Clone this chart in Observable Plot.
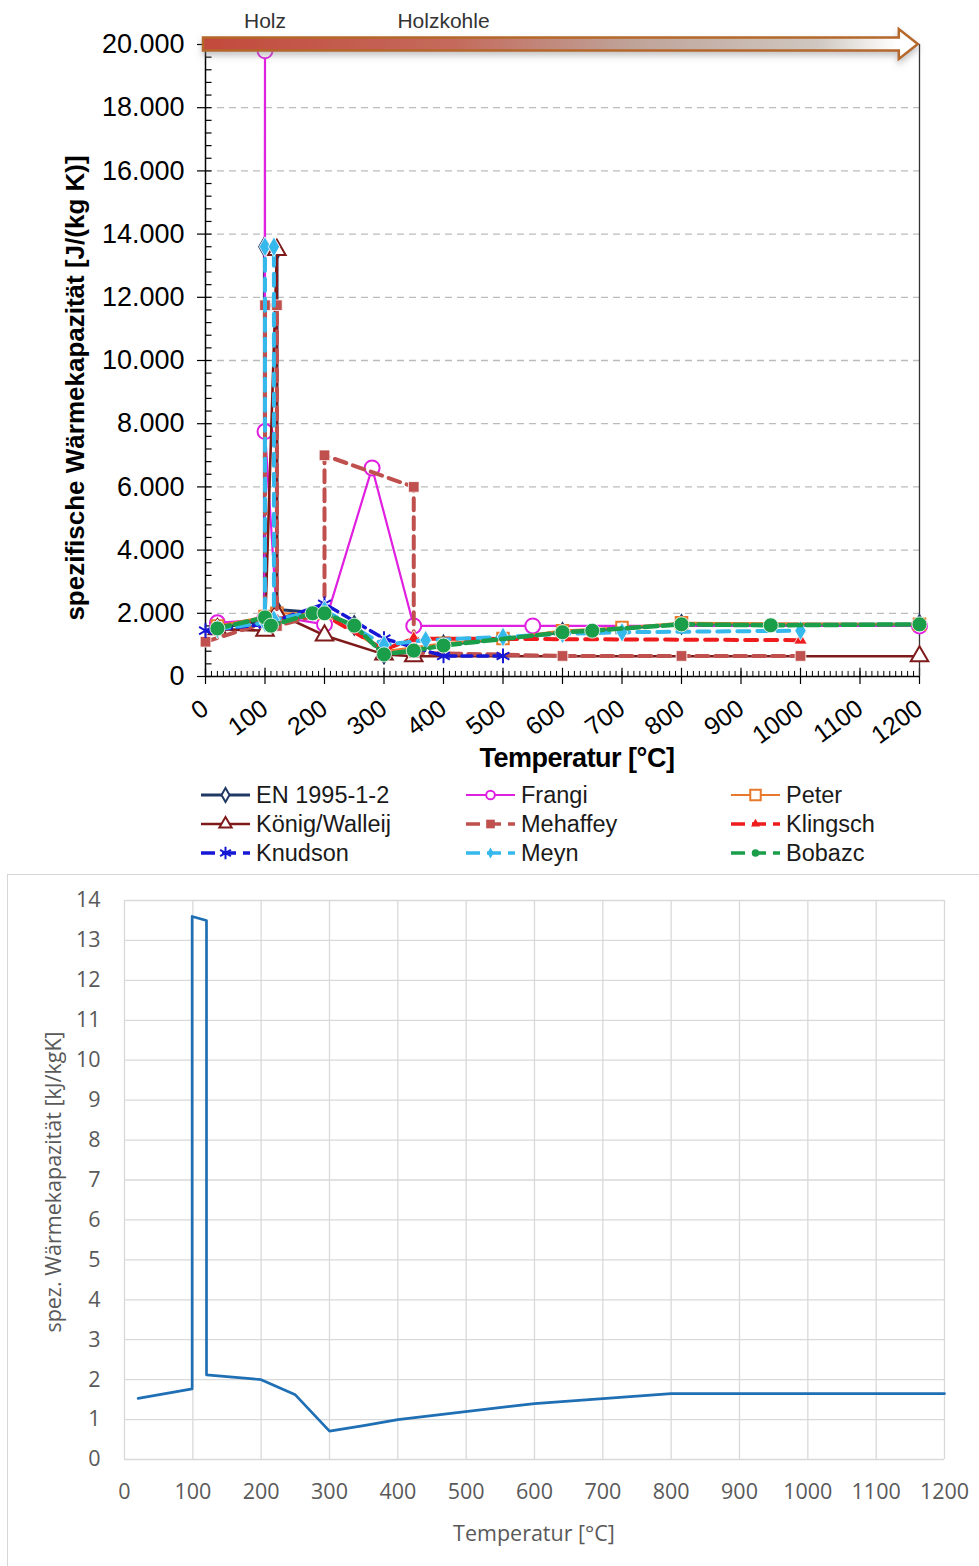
<!DOCTYPE html>
<html><head><meta charset="utf-8">
<script src="https://cdn.jsdelivr.net/npm/d3@7"></script>
<script src="https://cdn.jsdelivr.net/npm/@observablehq/plot@0.6"></script>
<style>
body{margin:0;background:#fff;}
#wrap{position:relative;width:979px;height:1566px;overflow:hidden;background:#fff;font-family:"Liberation Sans",Arial,sans-serif;}
.abs{position:absolute;}
</style></head><body><div id="wrap"></div>
<script>
// ---------- data: top chart (J/(kg K)) ----------
const seriesNames = ["EN 1995-1-2","Frangi","Peter","König/Walleij","Mehaffey","Klingsch","Knudson","Meyn","Bobazc"];
const temps_EN = [20,99,99,120,120,200,250,300,350,400,600,800,1200];
const cp_EN    = [1530,1770,13600,13500,2120,2000,1620,710,850,1000,1400,1650,1650];
const temps_Frangi = [20,99,100,100,120,200,280,350,550,1200];
const cp_Frangi    = [1700,1800,19800,7750,1900,1650,6600,1600,1600,1600];
const temps_Peter = [20,100,120,200,300,400,500,600,700,800,1200];
const cp_Peter    = [1600,1900,2000,2000,800,1050,1200,1450,1550,1700,1650];
const temps_Koenig = [20,100,120,120,200,300,350,1200];
const cp_Koenig    = [1500,1450,13500,2000,1300,700,640,640];
const temps_Mehaffey = [0,100,100,120,120,200,200,350,350,600,800,1000];
const cp_Mehaffey    = [1100,1700,11750,11750,1600,2000,7000,6000,750,650,650,650];
const temps_Klingsch = [20,100,200,300,350,1000];
const cp_Klingsch    = [1550,1800,1950,850,1200,1150];
const temps_Knudson = [0,100,200,300,400,500];
const cp_Knudson    = [1450,1650,2300,1200,650,650];
const temps_Meyn = [20,100,100,115,115,200,300,370,500,600,700,1000];
const cp_Meyn    = [1500,1700,13600,13600,1800,2100,1000,1150,1250,1350,1400,1450];
const temps_Bobazc = [20,100,110,180,200,250,300,350,400,600,650,800,950,1200];
const cp_Bobazc    = [1520,1870,1610,2000,2000,1610,700,820,980,1400,1450,1650,1620,1650];
const yTicks = [0,2000,4000,6000,8000,10000,12000,14000,16000,18000,20000];
const xTicks = [0,100,200,300,400,500,600,700,800,900,1000,1100,1200];
const phaseNames = ["Holz","Holzkohle"];
const phaseTemps = [100,400];
const arrowSpan = [0,1198];

// ---------- data: bottom chart (kJ/kgK, EN 1995-1-2) ----------
const botTemps = [20,99,99,120,120,200,250,300,350,400,600,800,1200];
const botCp    = [1.53,1.77,13.6,13.5,2.12,2.0,1.62,0.71,0.85,1.0,1.4,1.65,1.65];
const botYTicks = [0,1,2,3,4,5,6,7,8,9,10,11,12,13,14];
const botXTicks = [0,100,200,300,400,500,600,700,800,900,1000,1100,1200];

// ---------- styles ----------
const seriesData = {
  "EN 1995-1-2":[temps_EN,cp_EN], "Frangi":[temps_Frangi,cp_Frangi], "Peter":[temps_Peter,cp_Peter],
  "König/Walleij":[temps_Koenig,cp_Koenig], "Mehaffey":[temps_Mehaffey,cp_Mehaffey], "Klingsch":[temps_Klingsch,cp_Klingsch],
  "Knudson":[temps_Knudson,cp_Knudson], "Meyn":[temps_Meyn,cp_Meyn], "Bobazc":[temps_Bobazc,cp_Bobazc]
};
const styles = {
  "EN 1995-1-2":  {color:"#1f3864", width:3,   dash:null,   symbol:"diamond",  r:5.5, filled:false, lsym:d3.symbolDiamond, la:55},
  "Frangi":       {color:"#e020e0", width:2.2, dash:null,   symbol:"circle",   r:7.5, filled:false, lsym:d3.symbolCircle, la:60},
  "Peter":        {color:"#e8792b", width:2.2, dash:null,   symbol:"square",   r:6.5, filled:false, lsym:d3.symbolSquare, la:110},
  "König/Walleij":{color:"#7f1a1a", width:2.6, dash:null,   symbol:"triangle", r:6.5, filled:false, lsym:d3.symbolTriangle, la:65},
  "Mehaffey":     {color:"#c0504d", width:4,   dash:"12,7", symbol:"square",   r:6,   filled:true,  lsym:d3.symbolSquare, la:75},
  "Klingsch":     {color:"#ee1c1c", width:4,   dash:"12,8", symbol:"triangle", r:5,   filled:true,  lsym:d3.symbolTriangle, la:35},
  "Knudson":      {color:"#1717d6", width:3.5, dash:"10,6", symbol:"asterisk", r:7,   filled:false, lsym:d3.symbolAsterisk, la:110},
  "Meyn":         {color:"#35b8ec", width:4,   dash:"12,8", symbol:"diamond",  r:6,   filled:true,  lsym:d3.symbolDiamond, la:35},
  "Bobazc":       {color:"#1a9e4a", width:4.5, dash:"13,5", symbol:"circle",   r:7.5, filled:true,  lsym:d3.symbolCircle, la:45}
};

const rows = seriesNames.flatMap(name => {
  const [T, C] = seriesData[name];
  return T.map((t, i) => ({series: name, T: t, C: C[i]}));
});
const botRows = botTemps.map((t, i) => ({T: t, C: botCp[i]}));

const deFmt = d3.formatLocale({decimal:",", thousands:".", grouping:[3], currency:["","€"]}).format(",d");
const minorY = d3.range(0, 20001, 400);
const minorX = d3.range(0, 1201, 10);

const seriesMarks = seriesNames.flatMap(name => {
  const s = styles[name];
  const data = rows.filter(d => d.series === name);
  return [
    Plot.line(data, {x:"T", y:"C", stroke:s.color, strokeWidth:s.width, strokeDasharray:s.dash || undefined, strokeLinejoin:"round"}),
    Plot.dot(data, {x:"T", y:"C", symbol:s.symbol, r:s.r, fill: s.filled ? s.color : "white", stroke: s.filled ? "white" : s.color, strokeWidth: s.filled ? 0.8 : 2})
  ];
});

const topChart = Plot.plot({
  width: 979, height: 780,
  marginLeft: 205, marginRight: 60, marginTop: 44, marginBottom: 104,
  x: {domain:[0,1200]}, y: {domain:[0,20000]},
  style: {fontFamily:'"Liberation Sans", Arial, sans-serif', color:"#000", background:"transparent", overflow:"visible"},
  marks: [
    Plot.gridY(yTicks.filter(v => v > 0 && v < 20000), {stroke:"#bcbcbc", strokeOpacity:1, strokeDasharray:"7,5", strokeWidth:1.3}),
    Plot.ruleY(minorY, {y: d => d, x1: 0, x2: 11, stroke:"#000", strokeWidth:1.2}),
    Plot.ruleX(minorX, {x: d => d, y1: 0, y2: 160, stroke:"#000", strokeWidth:1}),
    Plot.ruleX(xTicks, {x: d => d, y1: 0, y2: 260, stroke:"#000", strokeWidth:1.2}),
    Plot.axisY({ticks: yTicks, tickFormat: deFmt, tickSize: 8, tickPadding: 13, fontSize: 27, label: null, stroke:"#000", strokeWidth:1.2}),
    Plot.axisX({ticks: xTicks, tickFormat: d => String(d), tickSize: 8, tickPadding: 21, tickRotate: -36, fontSize: 25, label: null, stroke:"#000", strokeWidth:1.2}),
    Plot.ruleX([1200], {stroke:"#333", strokeWidth:1.3}),
    Plot.ruleX([0], {stroke:"#000", strokeWidth:1.5}),
    Plot.ruleY([0], {stroke:"#000", strokeWidth:1.5}),
    ...seriesMarks,
    Plot.text(phaseNames, {x: (d, i) => phaseTemps[i], y: () => 20000, text: d => d, dy: -23, fontSize: 21, fill:"#333"})
  ]
});
topChart.style.position = "absolute"; topChart.style.left = "0px"; topChart.style.top = "0px";

// arrow across the top (Holz -> Holzkohle), placed through the plot's scales
{
  const sx = topChart.scale("x"), sy = topChart.scale("y");
  const x0 = sx.apply(arrowSpan[0]) - 2, xt = sx.apply(arrowSpan[1]), xh = xt - 19, yc = sy.apply(20000);
  const svg = d3.select(topChart.tagName.toLowerCase() === "svg" ? topChart : topChart.querySelector("svg"));
  const defs = svg.append("defs");
  const g = defs.append("linearGradient").attr("id","arrowGrad").attr("gradientUnits","userSpaceOnUse")
    .attr("x1", x0).attr("x2", xt).attr("y1", 0).attr("y2", 0);
  [[0,"#c24a3c"],[0.35,"#c46a5c"],[0.6,"#bfa399"],[0.86,"#cfc7c0"],[0.97,"#ffffff"]].forEach(([o,c]) =>
    g.append("stop").attr("offset", o).attr("stop-color", c));
  const f = defs.append("filter").attr("id","shadow").attr("x","-5%").attr("y","-100%").attr("width","110%").attr("height","300%");
  f.append("feDropShadow").attr("dx",0).attr("dy",4).attr("stdDeviation",3).attr("flood-color","#888").attr("flood-opacity",0.5);
  const pts = [[x0,yc-6.5],[xh,yc-6.5],[xh,yc-15],[xt,yc],[xh,yc+15],[xh,yc+6.5],[x0,yc+6.5]];
  svg.append("polygon").attr("points", pts.map(p => p.join(",")).join(" "))
    .attr("fill","url(#arrowGrad)").attr("stroke","#b4672a").attr("stroke-width",2.5)
    .attr("stroke-linejoin","miter").attr("filter","url(#shadow)");
}

const wrap = document.getElementById("wrap");
wrap.appendChild(topChart);

// axis titles of the top chart
const yTitle = document.createElement("div");
yTitle.className = "abs";
yTitle.textContent = "spezifische Wärmekapazität [J/(kg K)]";
Object.assign(yTitle.style, {left:"75px", top:"388px", transform:"translate(-50%,-50%) rotate(-90deg)", whiteSpace:"nowrap",
  fontWeight:"bold", fontSize:"26px", color:"#000", fontFamily:'"Liberation Sans", Arial, sans-serif'});
wrap.appendChild(yTitle);
const xTitle = document.createElement("div");
xTitle.className = "abs";
xTitle.textContent = "Temperatur [°C]";
Object.assign(xTitle.style, {left:"577px", top:"758px", transform:"translate(-50%,-50%)", whiteSpace:"nowrap",
  fontWeight:"bold", fontSize:"27px", color:"#000", letterSpacing:"-0.5px"});
wrap.appendChild(xTitle);

// legend (3 x 3)
const legCols = [200, 465, 730], legRows = [795, 824, 853];
seriesNames.forEach((name, i) => {
  const s = styles[name];
  const col = legCols[i % 3], row = legRows[Math.floor(i / 3)];
  const item = d3.select(wrap).append("div").attr("class","abs")
    .style("left", col + "px").style("top", (row - 15) + "px").style("height","30px")
    .style("display","flex").style("align-items","center").style("white-space","nowrap");
  const sv = item.append("svg").attr("width", 54).attr("height", 30);
  sv.append("line").attr("x1",1).attr("x2",50).attr("y1",15).attr("y2",15)
    .attr("stroke", s.color).attr("stroke-width", Math.min(s.width, 3.5))
    .attr("stroke-dasharray", s.dash ? "14,7" : null);
  sv.append("path").attr("d", d3.symbol(s.lsym, s.la)()).attr("transform","translate(25.5,15)")
    .attr("fill", s.filled ? s.color : "white").attr("stroke", s.filled ? "none" : s.color).attr("stroke-width", 2);
  item.append("span").text(name).style("font-size","23.5px").style("color","#1a1a1a").style("margin-left","2px");
});

// ---------- bottom chart ----------
const frame = document.createElement("div");
frame.className = "abs";
Object.assign(frame.style, {left:"7px", top:"874px", width:"1000px", height:"720px", border:"1.5px solid #d6d6d6", boxSizing:"border-box"});
wrap.appendChild(frame);

const bottomChart = Plot.plot({
  width: 979, height: 692,
  marginLeft: 124, marginRight: 35, marginTop: 26, marginBottom: 107,
  x: {domain:[0,1200]}, y: {domain:[0,14]},
  style: {fontFamily:'"Open Sans", "Noto Sans", sans-serif', color:"#595959", background:"transparent", overflow:"visible"},
  marks: [
    Plot.gridX(botXTicks, {stroke:"#d9d9d9", strokeOpacity:1, strokeWidth:1.3}),
    Plot.gridY(botYTicks, {stroke:"#d9d9d9", strokeOpacity:1, strokeWidth:1.3}),
    Plot.axisX({ticks: botXTicks, tickFormat: d => String(d), tickSize: 0, tickPadding: 24, fontSize: 21.5, label: null}),
    Plot.axisY({ticks: botYTicks, tickFormat: d => String(d), tickSize: 0, tickPadding: 24, fontSize: 21.5, label: null}),
    Plot.line(botRows, {x:"T", y:"C", stroke:"#1f6fb5", strokeWidth:2.7, strokeLinejoin:"round"})
  ]
});
bottomChart.style.position = "absolute"; bottomChart.style.left = "0px"; bottomChart.style.top = "874px";
wrap.appendChild(bottomChart);

const byTitle = document.createElement("div");
byTitle.className = "abs";
byTitle.textContent = "spez. Wärmekapazität [kJ/kgK]";
Object.assign(byTitle.style, {left:"52px", top:"1182px", transform:"translate(-50%,-50%) rotate(-90deg)", whiteSpace:"nowrap",
  fontSize:"21.5px", color:"#595959", fontFamily:'"Open Sans", "Noto Sans", sans-serif'});
wrap.appendChild(byTitle);
const bxTitle = document.createElement("div");
bxTitle.className = "abs";
bxTitle.textContent = "Temperatur [°C]";
Object.assign(bxTitle.style, {left:"534px", top:"1532px", transform:"translate(-50%,-50%)", whiteSpace:"nowrap",
  fontSize:"21.5px", color:"#595959", fontFamily:'"Open Sans", "Noto Sans", sans-serif'});
wrap.appendChild(bxTitle);
</script></body></html>
